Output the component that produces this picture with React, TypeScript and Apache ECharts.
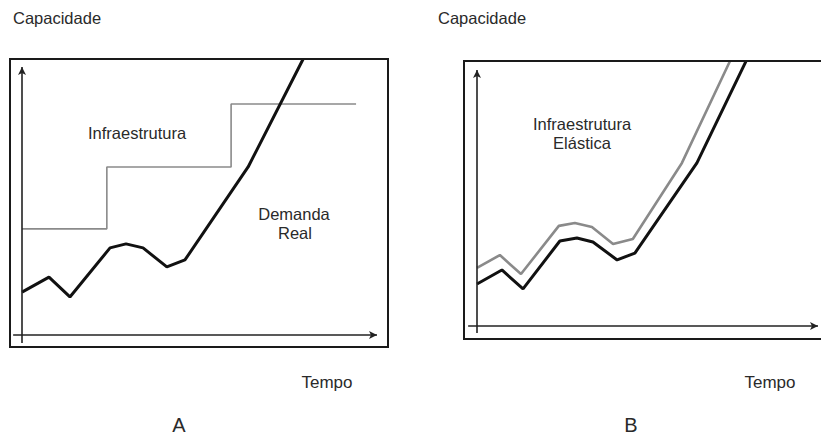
import React, { useEffect, useRef } from "react";
import * as echarts from "echarts";

// Time axis (0–100) and capacity axis (0–100)
const timeA = [0, 7.6, 13.5, 24.8, 29.3, 34.1, 40.8, 45.9, 63.7, 79.2];
const demandA = [16.0, 21.6, 14.2, 32.5, 34.0, 32.5, 25.4, 28.0, 62.7, 103];
const stepTimeA = [0, 23.9, 58.9, 94.1];
const infraA = [39.6, 62.7, 86.2, 86.2];

const timeB = [0, 7.3, 13.5, 24.3, 29.3, 34.0, 41.1, 46.3, 64.5, 78.9];
const demandB = [16.4, 21.9, 14.5, 33.2, 34.4, 32.8, 25.8, 28.5, 63.7, 103.5];
const elasticTimeB = [0, 6.7, 12.9, 24.0, 28.7, 33.7, 39.9, 45.7, 60.1, 74.2];
const elasticB = [22.7, 27.7, 20.3, 39.1, 40.2, 38.7, 32.0, 34.0, 63.7, 103.5];

const yLabel = "Capacidade";
const xLabel = "Tempo";
const panelLabels = ["A", "B"];

const zip = (xs: number[], ys: number[]) => xs.map((x, i) => [x, ys[i]]);

const FONT = "'Liberation Sans', Arial, sans-serif";
const TXT = "#2a2a2a";

export default function App() {
  const ref = useRef<HTMLDivElement>(null);
  useEffect(() => {
    if (!ref.current) return;
    const chart = echarts.init(ref.current, null, { renderer: "svg" });
    const hiddenAxis = (gridIndex: number) => ({
      type: "value" as const,
      gridIndex,
      min: -4,
      max: 104,
      show: false,
    });
    const hiddenX = (gridIndex: number) => ({ ...hiddenAxis(gridIndex), max: 100 });
    const axisMarks = (x0: number, y0: number) => ({
      silent: true,
      symbol: ["none", "arrow"],
      symbolSize: [6, 8],
      label: { show: false },
      emphasis: { disabled: true },
      lineStyle: { color: "#222", width: 1.6, type: "solid" as const },
      data: [
        [{ coord: [x0, 0] }, { coord: [100, 0] }],
        [{ coord: [0, y0] }, { coord: [0, 100] }],
      ],
    });
    const txt = (text: string, x: number, y: number, size: number, align = "center") => ({
      type: "text" as const,
      x,
      y,
      style: {
        text,
        fill: TXT,
        font: `${size}px ${FONT}`,
        textAlign: align,
        textVerticalAlign: "middle",
      },
    });
    chart.setOption({
      animation: false,
      backgroundColor: "#ffffff",
      grid: [
        { left: 7.8, top: 56.28, width: 369.2, height: 289.44 },
        { left: 463.36, top: 59.76, width: 354.64, height: 276.48 },
      ],
      xAxis: [hiddenX(0), hiddenX(1)],
      yAxis: [hiddenAxis(0), hiddenAxis(1)],
      series: [
        {
          type: "line",
          xAxisIndex: 0,
          yAxisIndex: 0,
          data: zip(stepTimeA, infraA),
          step: "end",
          showSymbol: false,
          clip: false,
          lineStyle: { color: "#8a8a8a", width: 1.6 },
        },
        {
          type: "line",
          xAxisIndex: 0,
          yAxisIndex: 0,
          data: zip(timeA, demandA),
          showSymbol: false,
          clip: false,
          lineStyle: { color: "#111", width: 3 },
          markLine: axisMarks(-2.5, -3),
        },
        {
          type: "line",
          xAxisIndex: 1,
          yAxisIndex: 1,
          data: zip(elasticTimeB, elasticB),
          showSymbol: false,
          clip: false,
          lineStyle: { color: "#8a8a8a", width: 2.6 },
        },
        {
          type: "line",
          xAxisIndex: 1,
          yAxisIndex: 1,
          data: zip(timeB, demandB),
          showSymbol: false,
          clip: false,
          lineStyle: { color: "#111", width: 3 },
          markLine: axisMarks(-2.6, -2.7),
        },
      ],
      graphic: [
        {
          type: "rect",
          shape: { x: 10, y: 59, width: 378, height: 288 },
          style: { fill: "none", stroke: "#1a1a1a", lineWidth: 2 },
          z: 10,
        },
        {
          type: "rect",
          shape: { x: 464, y: 61, width: 400, height: 278 },
          style: { fill: "none", stroke: "#1a1a1a", lineWidth: 2 },
          z: 10,
        },
        txt(yLabel, 13, 18, 16.5, "left"),
        txt(yLabel, 438, 18, 16.5, "left"),
        txt("Infraestrutura", 137, 133, 16.5),
        txt("Demanda", 294, 214, 16.5),
        txt("Real", 295, 233, 16.5),
        txt("Infraestrutura", 582, 124, 16.5),
        txt("Elástica", 582, 143, 16.5),
        txt(xLabel, 327, 382, 17),
        txt(xLabel, 770, 382, 17),
        txt(panelLabels[0], 179, 425, 20),
        txt(panelLabels[1], 631, 425, 20),
      ],
    });
    return () => chart.dispose();
  }, []);
  return <div ref={ref} style={{ width: 821, height: 437, position: "absolute", left: 0, top: 0 }} />;
}
